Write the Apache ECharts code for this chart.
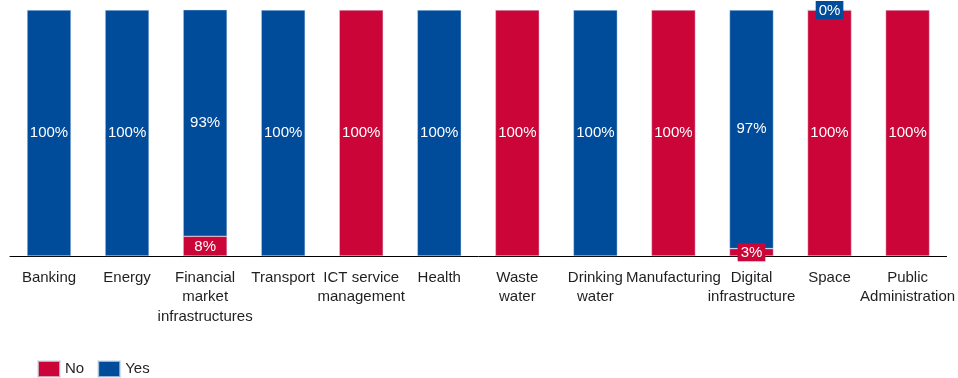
<!DOCTYPE html>
<html>
<head>
<meta charset="utf-8">
<script src="https://cdn.jsdelivr.net/npm/echarts@6/dist/echarts.min.js"></script>
<style>
  html, body { margin: 0; padding: 0; background: #fff; }
  #chart { width: 958px; height: 378px; }
</style>
</head>
<body>
<div id="chart"></div>
<script>
// Sectors shown along the x axis
const sectors = [
  'Banking', 'Energy', 'Financial\nmarket\ninfrastructures', 'Transport',
  'ICT service\nmanagement', 'Health', 'Waste\nwater', 'Drinking\nwater',
  'Manufacturing', 'Digital\ninfrastructure', 'Space', 'Public\nAdministration'
];

// Share of answers per sector, in percent (null = no segment)
const noValues  = [null, null, 8, null, 100, null, 100, null, 100, 3, 100, 100];
const yesValues = [100, 100, 93, 100, null, 100, null, 100, null, 97, 0, null];

const RED = '#CC0538';
const BLUE = '#004C9B';
const FONT = 'Liberation Sans, Arial, sans-serif';

// Small segments get a filled tag so the value stays readable
function segmentLabel(color) {
  return {
    show: true,
    position: 'inside',
    color: '#fff',
    fontSize: 15,
    fontFamily: FONT,
    formatter: p => {
      if (p.value === null || p.value === undefined) return '';
      return p.value < 10 ? '{tag|' + p.value + '%}' : p.value + '%';
    },
    rich: {
      tag: {
        color: '#fff',
        fontSize: 15,
        fontFamily: FONT,
        backgroundColor: color,
        padding: [2, 3, 1, 3]
      }
    }
  };
}

const chart = echarts.init(document.getElementById('chart'), null, { renderer: 'canvas' });

chart.setOption({
  animation: false,
  grid: { left: 10, right: 9, top: 10, bottom: 122, containLabel: false },
  legend: {
    left: 32,
    top: 355,
    icon: 'rect',
    itemWidth: 22,
    itemHeight: 16,
    itemGap: 13,
    textStyle: { fontSize: 15, fontFamily: FONT, color: '#262626' },
    data: ['No', 'Yes']
  },
  xAxis: {
    type: 'category',
    data: sectors,
    axisLine: { lineStyle: { color: '#000', width: 1 } },
    axisTick: { show: false },
    axisLabel: {
      interval: 0,
      margin: 12,
      fontSize: 15,
      lineHeight: 19.5,
      fontFamily: FONT,
      color: '#1f1f1f'
    }
  },
  yAxis: {
    type: 'value',
    min: 0,
    max: 100,
    show: false,
    splitLine: { show: false }
  },
  series: [
    {
      name: 'No',
      type: 'bar',
      stack: 'share',
      barWidth: 44,
      clip: true,
      data: noValues,
      itemStyle: { color: RED, borderColor: 'rgba(210,225,240,0.7)', borderWidth: 0.6 },
      label: segmentLabel(RED)
    },
    {
      name: 'Yes',
      type: 'bar',
      stack: 'share',
      barWidth: 44,
      clip: true,
      data: yesValues,
      itemStyle: { color: BLUE, borderColor: 'rgba(210,225,240,0.7)', borderWidth: 0.6 },
      label: segmentLabel(BLUE)
    }
  ]
});
</script>
</body>
</html>
